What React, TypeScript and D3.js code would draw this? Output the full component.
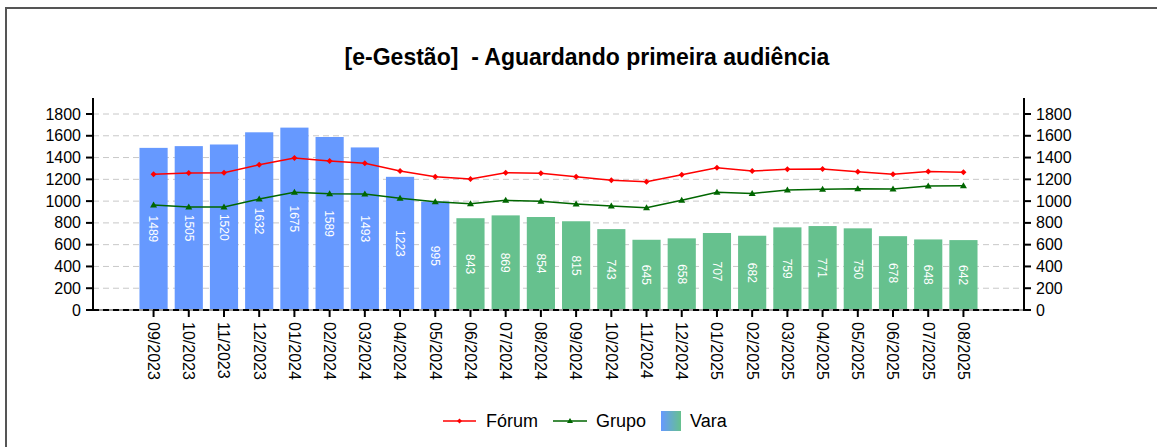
import React from 'react';
import * as d3 from 'd3';

const months = [
  '09/2023', '10/2023', '11/2023', '12/2023', '01/2024', '02/2024', '03/2024', '04/2024',
  '05/2024', '06/2024', '07/2024', '08/2024', '09/2024', '10/2024', '11/2024', '12/2024',
  '01/2025', '02/2025', '03/2025', '04/2025', '05/2025', '06/2025', '07/2025', '08/2025',
];
const vara = [1489, 1505, 1520, 1632, 1675, 1589, 1493, 1223, 995, 843, 869, 854, 815, 743, 645, 658, 707, 682, 759, 771, 750, 678, 648, 642];
const forum = [1246, 1258, 1261, 1334, 1396, 1368, 1347, 1276, 1224, 1203, 1261, 1255, 1224, 1191, 1178, 1243, 1307, 1276, 1292, 1295, 1270, 1246, 1273, 1264];
const grupo = [964, 946, 946, 1019, 1081, 1068, 1065, 1026, 995, 976, 1007, 998, 973, 955, 939, 1007, 1081, 1071, 1102, 1108, 1114, 1111, 1139, 1141];
// the first nine months are drawn in blue, the rest in green
const blueCount = 9;
const yTicks = [0, 200, 400, 600, 800, 1000, 1200, 1400, 1600, 1800];

const W = 1157;
const H = 447;
const left = 93;
const right = 1024;
const top = 98;
const bottom = 310;
const font = 'Liberation Sans, Arial, sans-serif';
const BLUE = '#6699ff';
const GREEN = '#66c18e';

export default function App() {
  const x = d3.scaleBand<string>().domain(months).range([left, right]).paddingInner(0.2).paddingOuter(1.32);
  const y = d3.scaleLinear().domain([0, 1947]).range([bottom, top]);
  const cx = (m: string) => (x(m) ?? 0) + x.bandwidth() / 2;

  const line = d3.line<number>().x((_, i) => cx(months[i])).y(d => y(d));

  return (
    <div style={{ position: 'fixed', left: 0, top: 0 }}>
      <svg width={W} height={H} style={{ display: 'block', fontFamily: font }}>
        <rect x={0} y={0} width={W} height={H} fill="#fff" />
        <rect x={6} y={8} width={W + 20} height={H + 20} fill="none" stroke="#555" strokeWidth={2} />

        <text x={587} y={65} textAnchor="middle" fontSize={23} fontWeight="bold">
          [e-Gestão]{'\u00a0\u00a0'}- Aguardando primeira audiência
        </text>

        {/* grid */}
        {yTicks.filter(t => t > 0).map(t => (
          <line key={t} x1={left} x2={right} y1={y(t)} y2={y(t)} stroke="#c8c8c8" strokeDasharray="6,4" />
        ))}

        {/* bars */}
        {vara.map((v, i) => (
          <rect key={months[i]} x={x(months[i])} y={y(v)} width={x.bandwidth()} height={bottom - y(v)}
            fill={i < blueCount ? BLUE : GREEN} />
        ))}
        {vara.map((v, i) => {
          const my = (y(v) + bottom) / 2;
          return (
            <text key={'l' + i} transform={`translate(${cx(months[i])},${my}) rotate(90)`} textAnchor="middle"
              dy="0.35em" fontSize={12} fill="#fff">{v}</text>
          );
        })}

        {/* lines */}
        <path d={line(forum) ?? ''} fill="none" stroke="#ff0000" strokeWidth={1.5} />
        {forum.map((v, i) => (
          <path key={'f' + i} transform={`translate(${cx(months[i])},${y(v)})`} d="M0,-3L3,0L0,3L-3,0Z" fill="#ff0000" />
        ))}
        <path d={line(grupo) ?? ''} fill="none" stroke="#006600" strokeWidth={1.5} />
        {grupo.map((v, i) => (
          <path key={'g' + i} transform={`translate(${cx(months[i])},${y(v)})`} d="M0,-3.5L3.5,2.5L-3.5,2.5Z" fill="#006600" />
        ))}

        {/* baseline */}
        <line x1={left} x2={right} y1={bottom} y2={bottom} stroke="#999" strokeWidth={2} />
        <line x1={left} x2={right} y1={bottom} y2={bottom} stroke="#000" strokeWidth={2} strokeDasharray="6,4" />

        {/* y axes */}
        <line x1={left} x2={left} y1={top} y2={bottom + 1} stroke="#000" strokeWidth={2} />
        <line x1={right} x2={right} y1={top} y2={bottom + 1} stroke="#000" strokeWidth={2} />
        {yTicks.map(t => (
          <g key={'yt' + t}>
            <line x1={left - 7} x2={left} y1={y(t)} y2={y(t)} stroke="#000" strokeWidth={2} />
            <text x={left - 12} y={y(t)} dy="0.35em" textAnchor="end" fontSize={16}>{t}</text>
            <line x1={right} x2={right + 7} y1={y(t)} y2={y(t)} stroke="#000" strokeWidth={2} />
            <text x={right + 12} y={y(t)} dy="0.35em" textAnchor="start" fontSize={16}>{t}</text>
          </g>
        ))}

        {/* x axis */}
        {months.map(m => (
          <g key={'xt' + m}>
            <line x1={cx(m)} x2={cx(m)} y1={bottom} y2={bottom + 7} stroke="#000" strokeWidth={2} />
            <text transform={`translate(${cx(m)},${bottom + 12}) rotate(90)`} dy="0.35em" fontSize={16}>{m}</text>
          </g>
        ))}

        {/* legend */}
        <defs>
          <linearGradient id="varaGrad" x1="0" x2="1" y1="0" y2="0">
            <stop offset="0" stopColor={BLUE} />
            <stop offset="1" stopColor={GREEN} />
          </linearGradient>
        </defs>
        <line x1={443} x2={476} y1={421} y2={421} stroke="#ff0000" strokeWidth={1.5} />
        <path transform="translate(459.5,421)" d="M0,-2.5L2.5,0L0,2.5L-2.5,0Z" fill="#ff0000" />
        <text x={486} y={421} dy="0.35em" fontSize={18}>Fórum</text>
        <line x1={553} x2={587} y1={421} y2={421} stroke="#006600" strokeWidth={1.5} />
        <path transform="translate(570,421)" d="M0,-3L3,2L-3,2Z" fill="#006600" />
        <text x={596} y={421} dy="0.35em" fontSize={18}>Grupo</text>
        <rect x={661} y={411} width={20} height={20} fill="url(#varaGrad)" />
        <text x={690} y={421} dy="0.35em" fontSize={18}>Vara</text>
      </svg>
    </div>
  );
}
